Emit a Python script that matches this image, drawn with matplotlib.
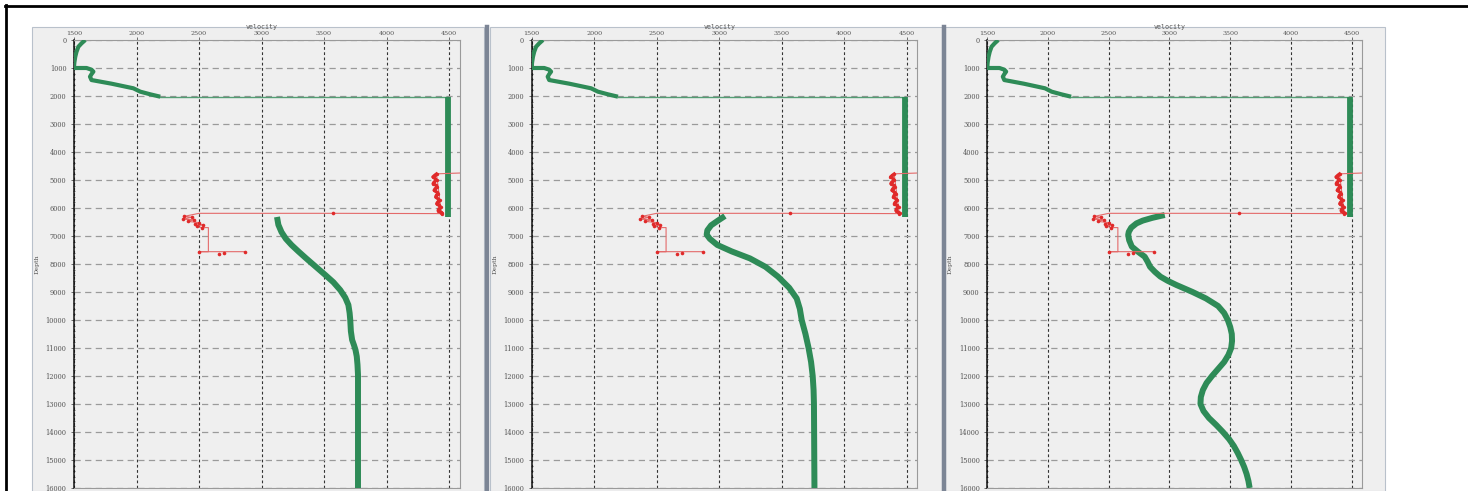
import matplotlib
matplotlib.use("Agg")
import matplotlib.pyplot as plt
from matplotlib.patches import Rectangle
from matplotlib.lines import Line2D
import numpy as np

W, H = 1468, 491

# ---- data -------------------------------------------------------------
vel_ticks = [1500, 2000, 2500, 3000, 3500, 4000, 4500]
depth_ticks = list(range(0, 16001, 1000))

# shallow velocity trend (shared by all panels)
top_depth = [0, 120, 240, 420, 600, 800, 950, 1000, 1000, 1060, 1130, 1220, 1310, 1430,
             1560, 1725, 1845, 1940, 2025]
top_vel = [1590, 1560, 1535, 1520, 1510, 1503, 1500, 1500, 1600, 1640, 1655, 1640, 1628,
           1640, 1800, 1975, 2030, 2110, 2190]

# constant-velocity block between the two trends
block_vel = 4490
block_depth = [2025, 6310]
link_vel = [2190, 4490]
link_depth = [2025, 2025]

# deep velocity trend, one per panel
deep_depth_1 = [6320, 6600, 6860, 7100, 7320, 7550, 7790, 8100, 8390, 8650, 8930, 9200,
                9460, 9750, 10000, 10400, 10710, 10900, 11070, 11300, 11600, 11960, 16000]
deep_vel_1 = [3124, 3135, 3160, 3195, 3240, 3295, 3355, 3435, 3510, 3575, 3630, 3670,
              3695, 3705, 3710, 3715, 3725, 3740, 3752, 3762, 3768, 3772, 3772]

deep_depth_2 = [6286, 6450, 6620, 6800, 6950, 7100, 7320, 7550, 7800, 8100, 8450, 8850,
                9230, 9600, 10000, 10500, 11000, 11500, 12000, 12500, 13000, 16000]
deep_vel_2 = [3046, 2990, 2935, 2905, 2900, 2925, 2985, 3100, 3246, 3370, 3470, 3560,
              3620, 3645, 3660, 3690, 3715, 3735, 3748, 3755, 3758, 3762]

deep_depth_3 = [6250, 6350, 6450, 6550, 6700, 6850, 6960, 7150, 7380, 7560, 7740, 7920,
                8100, 8280, 8450, 8600, 8750, 9000, 9230, 9500, 9750, 10000, 10250, 10500,
                10750, 11000, 11250, 11500, 11750, 12000, 12250, 12500, 12750, 13000,
                13250, 13500, 13750, 14000, 14250, 14500, 14750, 15000, 15250, 15500,
                15750, 16000]
deep_vel_3 = [2961, 2860, 2780, 2728, 2685, 2665, 2660, 2668, 2690, 2740, 2796, 2820,
              2840, 2880, 2925, 2985, 3057, 3190, 3300, 3400, 3450, 3480, 3500, 3513,
              3515, 3508, 3485, 3450, 3400, 3350, 3305, 3275, 3258, 3255, 3280, 3325,
              3385, 3440, 3490, 3530, 3562, 3590, 3615, 3635, 3650, 3660]

# picked velocities: dense pick trace near the block
blob_vel = [4400, 4385, 4370, 4390, 4400, 4380, 4372, 4395, 4405, 4388, 4380, 4400, 4415,
            4398, 4392, 4412, 4425, 4408, 4400, 4422, 4435, 4418, 4412, 4432, 4445, 4440]
blob_depth = [4780, 4830, 4890, 4950, 5010, 5070, 5130, 5190, 5250, 5310, 5370, 5430,
              5490, 5550, 5610, 5670, 5730, 5790, 5850, 5910, 5970, 6030, 6090, 6140,
              6180, 6200]

# picked velocities: connecting path and remaining pick markers
pick_path_vel = [4590, 4400, 4440, 3570, 2500, 2380, 2440, 2370, 2460, 2410, 2500, 2470,
                 2530, 2480, 2520, 2575, 2575, 2500, 2870]
pick_path_depth = [4750, 4780, 6200, 6190, 6190, 6300, 6330, 6400, 6420, 6480, 6520,
                   6560, 6600, 6640, 6700, 6700, 7560, 7560, 7560]
pick_vel = [3570, 2380, 2440, 2370, 2460, 2410, 2500, 2470, 2530, 2480, 2520, 2500, 2660,
            2700, 2870]
pick_depth = [6190, 6300, 6330, 6400, 6420, 6480, 6520, 6560, 6600, 6640, 6700, 7560,
              7650, 7600, 7560]

panels = [
    dict(frame=(32, 27, 484, 491), axes=(74, 40, 460, 488), xmax=4588,
         deep=(deep_vel_1, deep_depth_1)),
    dict(frame=(490, 27, 942, 491), axes=(531.7, 40, 916.7, 488), xmax=4580,
         deep=(deep_vel_2, deep_depth_2)),
    dict(frame=(945, 27, 1385, 491), axes=(987.3, 40, 1362, 488), xmax=4585,
         deep=(deep_vel_3, deep_depth_3)),
]

GREEN = "#2e8b57"
RED = "#e02a2a"
RED_LINE = "#e46a6a"
BG = "#efefef"

fig = plt.figure(figsize=(W / 100, H / 100), dpi=100)
fig.patch.set_facecolor("white")


def fig_rect(x0, y0, x1, y1):
    return [x0 / W, 1 - y1 / H, (x1 - x0) / W, (y1 - y0) / H]


# panel backgrounds
for p in panels:
    x0, y0, x1, y1 = p["frame"]
    fig.add_artist(Rectangle((x0 / W, 1 - y1 / H), (x1 - x0) / W, (y1 - y0) / H,
                             transform=fig.transFigure, facecolor=BG,
                             edgecolor="#b9c1cb", linewidth=0.8, zorder=0))

# separators between panels
for sx in (487, 943.5):
    fig.add_artist(Line2D([sx / W, sx / W], [0, 1 - 27 / H], transform=fig.transFigure,
                          color="#7c8595", linewidth=3.2, zorder=1))

# outer frame (top and left edges)
fig.add_artist(Line2D([5 / W, 1], [1 - 6 / H, 1 - 6 / H], transform=fig.transFigure,
                      color="black", linewidth=2.0, zorder=5))
fig.add_artist(Line2D([6 / W, 6 / W], [0, 1 - 5 / H], transform=fig.transFigure,
                      color="black", linewidth=2.0, zorder=5))

tick_font = dict(family="DejaVu Serif", size=4.6, color="#555555")

for p in panels:
    ax = fig.add_axes(fig_rect(*p["axes"]))
    ax.set_facecolor(BG)
    ax.set_xlim(1500, p["xmax"])
    ax.set_ylim(16000, 0)

    ax.xaxis.tick_top()
    ax.set_xticks(vel_ticks)
    ax.set_xticklabels([str(v) for v in vel_ticks], fontdict=tick_font)
    ax.set_yticks(depth_ticks)
    ax.set_yticklabels([str(d) for d in depth_ticks], fontdict=dict(tick_font, size=4.8))
    ax.set_yticks(np.arange(0, 16001, 200), minor=True)
    ax.tick_params(axis="x", length=2, width=0.6, pad=0.8, colors="#555555")
    ax.tick_params(axis="y", which="major", length=2.5, width=0.6, pad=3, colors="#555555")
    ax.tick_params(axis="y", which="minor", length=1.2, width=0.5, direction="inout",
                   color="#333333")

    for side in ("top", "right", "bottom"):
        ax.spines[side].set_color("#9a9a9a")
        ax.spines[side].set_linewidth(0.8)
    ax.spines["left"].set_color("#111111")
    ax.spines["left"].set_linewidth(1.1)

    ax.grid(axis="y", which="major", color="#9a9a9a", linewidth=0.9,
            linestyle=(0, (5, 3.5)))
    ax.grid(axis="x", which="major", color="#333333", linewidth=0.8,
            linestyle=(0, (2.5, 2.2)))
    ax.set_axisbelow(True)

    ax.text(0.487, 1.0 + 10.5 / 448, "velocity", transform=ax.transAxes,
            ha="center", va="bottom", family="DejaVu Sans Mono", size=4.8,
            color="#555555")
    ax.text(-37 / (p["axes"][2] - p["axes"][0]), 0.5, "Depth", transform=ax.transAxes,
            ha="center", va="center", rotation=90, family="DejaVu Serif", size=4.6,
            color="#555555")

    # velocity trends
    ax.plot(top_vel, top_depth, color=GREEN, linewidth=3.0, solid_capstyle="butt",
            solid_joinstyle="round", zorder=3)
    ax.plot(link_vel, link_depth, color=GREEN, linewidth=1.0, alpha=0.8, zorder=3)
    ax.plot([block_vel, block_vel], block_depth, color=GREEN, linewidth=4.2,
            solid_capstyle="butt", zorder=3)
    dv, dd = p["deep"]
    ax.plot(dv, dd, color=GREEN, linewidth=4.3, solid_capstyle="butt",
            solid_joinstyle="round", zorder=3)

    # picks
    ax.plot(pick_path_vel, pick_path_depth, color=RED_LINE, linewidth=0.8, zorder=4)
    ax.plot(blob_vel, blob_depth, color=RED, linewidth=2.2, solid_joinstyle="round",
            marker="o", markersize=2.4, markeredgewidth=0, zorder=5)
    ax.plot(pick_vel, pick_depth, linestyle="none", marker="o", markersize=2.6,
            color=RED, markeredgewidth=0, zorder=5)

fig.savefig("out.png", dpi=100, facecolor=fig.get_facecolor())
